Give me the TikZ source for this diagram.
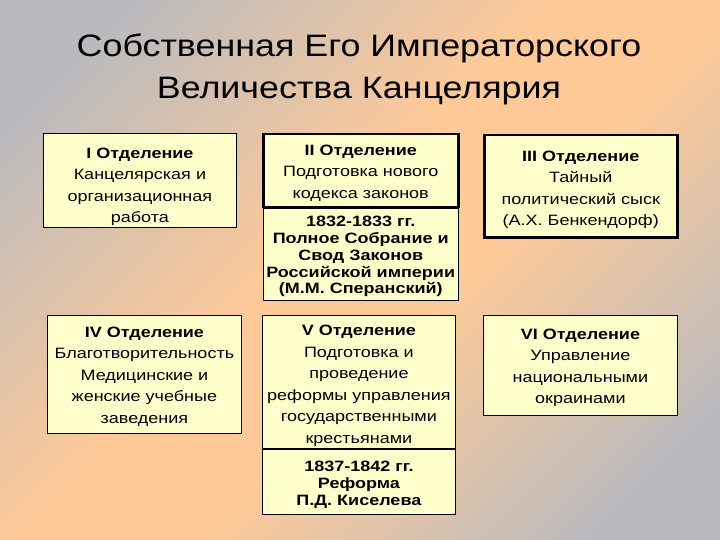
\documentclass[tikz,border=0pt]{standalone}
\usepackage{fontspec}
\setmainfont[FakeStretch=1.2]{Liberation Sans}
\newfontfamily\titlefont[FakeStretch=1.156]{Liberation Sans}
\usetikzlibrary{positioning}

\definecolor{bggray}{RGB}{186,186,190}
\definecolor{bgpeach}{RGB}{255,202,152}
\definecolor{boxfill}{RGB}{255,255,204}
\pgfdeclarehorizontalshading{bgshade}{100bp}{color(0bp)=(bggray); color(22bp)=(bggray); color(46bp)=(bgpeach); color(56bp)=(bgpeach); color(78bp)=(bggray); color(100bp)=(bggray)}

% heading line of a box, with extra room above it
\newcommand{\hd}[2][17pt]{\rule{0pt}{#1}\textbf{#2}}

\tikzset{
  dept/.style={draw=black, line width=0.8pt, fill=boxfill, align=center, inner sep=0pt, anchor=north west,
    font=\fontsize{15}{21.5}\selectfont},
  deptthick/.style={dept, line width=2.5pt},
  dates/.style={draw=black, line width=0.8pt, fill=boxfill, align=center, inner sep=0pt,
    font=\fontsize{15}{16.8}\selectfont\bfseries},
}

\begin{document}
\begin{tikzpicture}[x=1pt,y=-1pt]
\fill[shading=bgshade, shading angle=-45] (0,0) rectangle (720,540);
\useasboundingbox (0,0) rectangle (720,540);
% title
\node[font=\titlefont\fontsize{31}{42}\selectfont, align=center] (title) at (359,69) {Собственная Его Императорского\\Величества Канцелярия};
% upper row
\node[dept, minimum width=193pt, minimum height=94pt] (dep1) at (43,133) {\hd[23pt]{I Отделение}\\Канцелярская и\\организационная\\работа};
\node[deptthick, minimum width=195pt, minimum height=73pt] (dep2) at (262,133) {\hd[15pt]{II Отделение}\\Подготовка нового\\кодекса законов};
\node[dates, minimum width=195pt, minimum height=91pt, below=0pt of dep2] (dep2a) {\rule{0pt}{15pt}1832-1833 гг.\\Полное Собрание и\\Свод Законов\\Российской империи\\(М.М. Сперанский)};
\node[deptthick, minimum width=193pt, minimum height=102pt] (dep3) at (483,134) {\hd[18pt]{III Отделение}\\Тайный\\политический сыск\\(А.Х. Бенкендорф)};
% lower row
\node[dept, minimum width=194pt, minimum height=118pt] (dep4) at (47,315) {\hd[15pt]{IV Отделение}\\Благотворительность\\Медицинские и\\женские учебные\\заведения};
\node[dept, minimum width=193pt, minimum height=133pt] (dep5) at (262,315) {\hd[18pt]{V Отделение}\\Подготовка и\\проведение\\реформы управления\\государственными\\крестьянами};
\node[dates, minimum width=193pt, minimum height=65pt, below=0pt of dep5] (dep5a) {\rule{0pt}{17pt}1837-1842 гг.\\Реформа\\П.Д. Киселева};
\node[dept, minimum width=194pt, minimum height=100pt] (dep6) at (483,315) {\hd[15pt]{VI Отделение}\\Управление\\национальными\\окраинами};
\end{tikzpicture}
\end{document}
